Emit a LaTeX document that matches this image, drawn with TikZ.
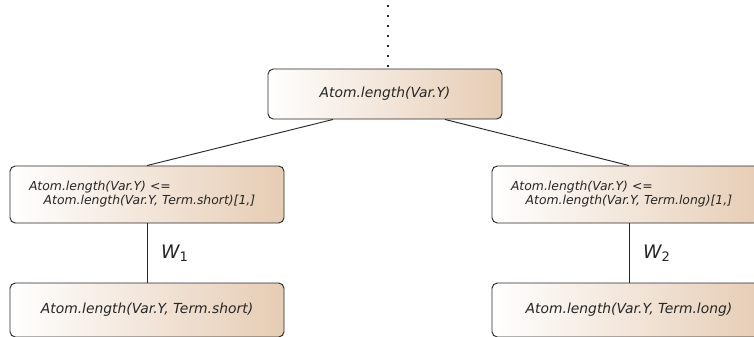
\documentclass[tikz,border=0pt]{standalone}
\usepackage{fontspec}
\setmainfont{DejaVu Sans}
\definecolor{boxtan}{RGB}{230,204,180}
\definecolor{boxline}{RGB}{40,40,40}
\begin{document}
\begin{tikzpicture}[x=0.75pt,y=-0.75pt]

    \tikzset{atomstyle/.style={draw=boxline,rounded corners=4pt,line width=0.7pt,
        left color=white,right color=boxtan,shading angle=90,
        font=\itshape\fontsize{10.4}{12}\selectfont,text=black!85}}
    \tikzset{condstyle/.style={atomstyle,font=\itshape\fontsize{9.3}{10.5}\selectfont,
        text width=177pt,inner xsep=14.25pt,align=left,minimum height=42.75pt}}
    \tikzset{wlabel/.style={font=\itshape\fontsize{14}{16}\selectfont,text=black!85}}

    \useasboundingbox (0,0) rectangle (754,336);
    \clip (0,0) rectangle (754,336);

    \node[atomstyle,minimum width=175.5pt,minimum height=37.5pt] (top) at (385,94) {Atom.length(Var.Y)};

    \node[condstyle] (c1) at (147,194.5) {Atom.length(Var.Y) <=\\\hspace*{11pt}Atom.length(Var.Y, Term.short)[1,]};
    \node[condstyle] (c2) at (629,194.5) {Atom.length(Var.Y) <=\\\hspace*{11pt}Atom.length(Var.Y, Term.long)[1,]};

    \node[atomstyle,minimum width=205.5pt,minimum height=40.5pt] (a1) at (147,310) {Atom.length(Var.Y, Term.short)};
    \node[atomstyle,minimum width=205.5pt,minimum height=40.5pt] (a2) at (629,310) {Atom.length(Var.Y, Term.long)};

    \coordinate (dots) at (388,5);

    \begin{scope}[every path/.style={draw=boxline,line width=0.7pt}]
        \draw[line width=1.8pt,dash pattern=on 1.8pt off 5.7pt] (dots) -- (dots |- top.north);
        \draw ([xshift=-39pt]top.south) -- (c1.north);
        \draw ([xshift=45pt]top.south) -- (c2.north);
        \draw (c1) -- (a1) node[wlabel,right=7pt,midway]{W\textsubscript{\upshape 1}};
        \draw (c2) -- (a2) node[wlabel,right=7pt,midway]{W\textsubscript{\upshape 2}};
    \end{scope}

\end{tikzpicture}
\end{document}
